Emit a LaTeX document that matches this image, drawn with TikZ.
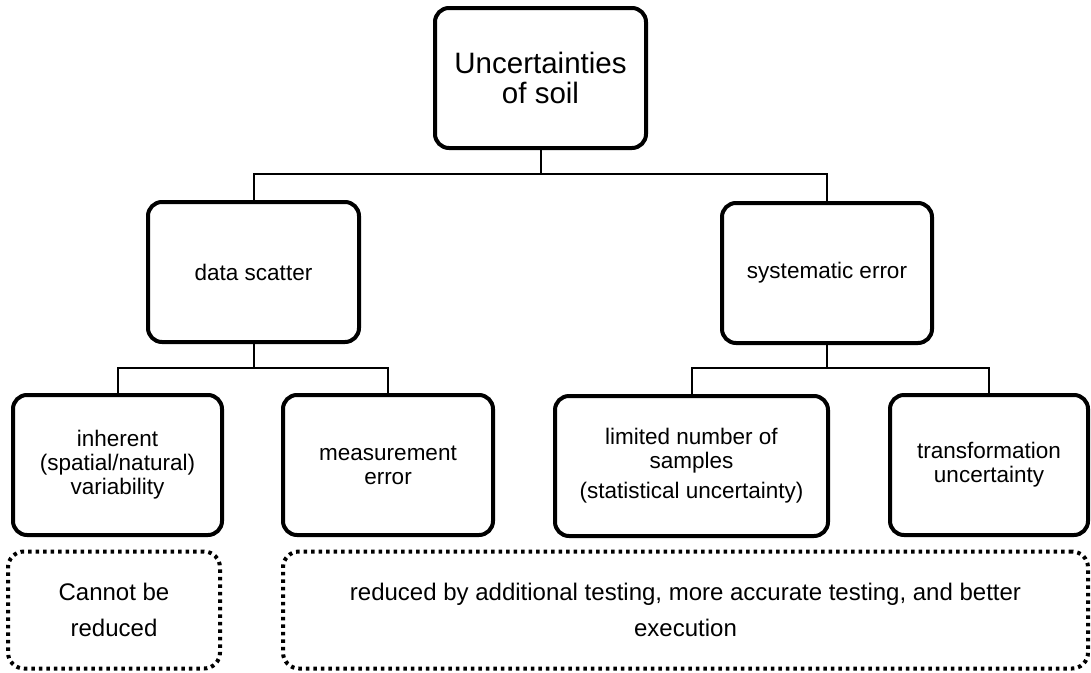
\documentclass[tikz,border=0pt]{standalone}
\usepackage{fontspec}
\setmainfont{Liberation Sans}
\begin{document}
\begin{tikzpicture}[x=1pt,y=-1pt,
  solidbox/.style={draw=black,line width=4pt,rounded corners=14pt,align=center,
    inner sep=0pt,minimum height=140pt,font=\fontsize{22.5}{24}\selectfont},
  dotbox/.style={draw=black,line width=4pt,rounded corners=16pt,align=center,
    inner sep=0pt,minimum height=117pt,dash pattern=on 3.5pt off 4pt,
    font=\fontsize{24}{36}\selectfont},
  link/.style={draw=black,line width=2pt}]
\useasboundingbox (0,0) rectangle (1091,672);
\node[solidbox,minimum width=211pt,font=\fontsize{29.5}{29.5}\selectfont] (top) at (540.5,78) {Uncertainties\\of soil};
\node[solidbox,minimum width=211pt] (ds) at (253.5,272) {data scatter};
\node[solidbox,minimum width=210pt] (se) at (827,273) {systematic error};
\node[solidbox,minimum width=209pt] (inh) at (117.5,465) {inherent\\(spatial/natural)\\variability};
\node[solidbox,minimum width=210pt] (me) at (388,465) {measurement\\error};
\node[solidbox,minimum width=273pt] (lim) at (691.5,466) {limited number of\\samples\\[6pt](statistical uncertainty)};
\node[solidbox,minimum width=198pt] (tr) at (989,465) {transformation\\uncertainty};
\node[dotbox,minimum width=212pt] (cbr) at (114,610) {Cannot be\\reduced};
\node[dotbox,minimum width=805pt] (red) at (685.5,610) {reduced by additional testing, more accurate testing, and better\\execution};
\coordinate (b1) at (540.5,174);
\coordinate (b2) at (253.5,368);
\coordinate (b3) at (827,368);
\draw[link] (top.south) -- (b1);
\draw[link] (b1) -| (ds.north);
\draw[link] (b1) -| (se.north);
\draw[link] (ds.south) -- (b2);
\draw[link] (b2) -| (inh.north);
\draw[link] (b2) -| (me.north);
\draw[link] (se.south) -- (b3);
\draw[link] (b3) -| (lim.north);
\draw[link] (b3) -| (tr.north);
\end{tikzpicture}
\end{document}
